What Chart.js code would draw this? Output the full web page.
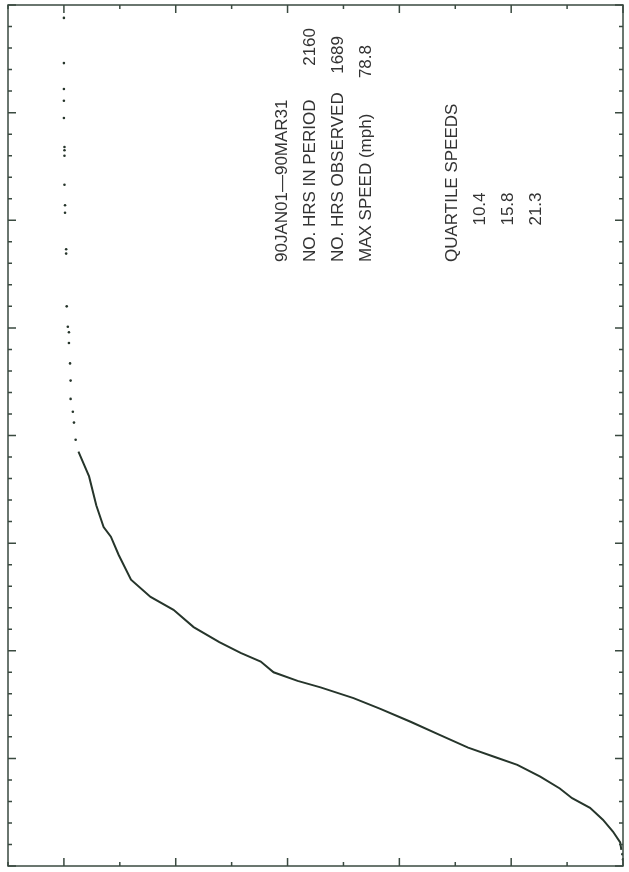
<!DOCTYPE html>
<html lang="en">
<head>
    <meta charset="UTF-8">
    <title>Wind speed distribution 90JAN01-90MAR31</title>
    <script src="https://cdn.jsdelivr.net/npm/chart.js"></script>
    <style>
        html, body { margin: 0; padding: 0; background: #fff; }
        canvas { display: block; }
    </style>
</head>
<body>
    <canvas id="speedChart" width="629" height="872"></canvas>

    <script>
        // cumulative percent of hours vs wind speed (mph)
        const curvePct = [0.3, 0.5, 1.8, 3.6, 5.9, 9.1, 11.3, 14.8, 18.9, 22.8, 27.7, 32.9, 38.0, 43.4, 48.2, 54.1,
            58.2, 62.5, 64.8, 68.4, 72.2, 76.8, 80.4, 84.5, 88.0, 90.2, 91.6, 92.9, 94.2, 95.5, 96.4, 97.4];
        const curveSpeed = [1.5, 2.2, 3.2, 4.3, 5.4, 6.3, 7.2, 8.3, 9.4, 10.1, 11.0, 12.2, 13.4, 14.6, 15.6, 16.6,
            17.2, 18.0, 19.0, 19.8, 20.8, 22.2, 23.8, 25.0, 26.6, 28.9, 30.6, 31.5, 33.5, 36.2, 37.3, 38.5];

        // isolated observations (calm hours at the bottom, the strong gusts at the top)
        const dotPct = [0.0, 0.1, 97.9, 98.2, 98.4, 98.8, 98.8, 98.9, 99.1, 99.1, 99.3, 99.5, 99.6, 99.6, 99.8,
            99.8, 99.9, 99.9, 99.9, 99.9, 100, 100, 100, 100, 100];
        const dotSpeed = [0.6, 1.1, 39.6, 41.2, 42.2, 43.4, 45.1, 46.7, 48.6, 49.6, 50.1, 52.0, 56.9, 57.3, 60.7,
            61.4, 63.3, 66.0, 66.5, 66.8, 69.5, 71.1, 72.2, 74.6, 78.8];

        const infoLabels = ['90JAN01\u201490MAR31', 'NO. HRS IN PERIOD', 'NO. HRS OBSERVED', 'MAX SPEED (mph)'];
        const infoValues = ['', '2160', '1689', '78.8'];
        const quartileTitle = 'QUARTILE SPEEDS';
        const quartileSpeeds = ['10.4', '15.8', '21.3'];

        const inkColor = '#26352b';
        const frameColor = '#3a4a40';
        const textColor = '#333333';

        const framePlugin = {
            id: 'frame',
            beforeDraw(chart) {
                const ctx = chart.ctx;
                ctx.save();
                ctx.fillStyle = '#ffffff';
                ctx.fillRect(0, 0, chart.width, chart.height);
                ctx.restore();
            },
            afterDraw(chart) {
                const ctx = chart.ctx;
                const a = chart.chartArea;
                const xs = chart.scales.x;
                const ys = chart.scales.y;
                ctx.save();
                ctx.strokeStyle = frameColor;
                ctx.lineWidth = 1.5;
                ctx.strokeRect(a.left, a.top, a.right - a.left, a.bottom - a.top);

                ctx.beginPath();
                // speed ticks every 2 mph, long every 10, on both vertical sides, pointing in
                for (let v = 0; v <= 80; v += 2) {
                    const py = ys.getPixelForValue(v);
                    const len = v % 10 === 0 ? 8 : 4;
                    ctx.moveTo(a.left, py); ctx.lineTo(a.left + len, py);
                    ctx.moveTo(a.right, py); ctx.lineTo(a.right - len, py);
                }
                // percent ticks every 10, long every 20, top and bottom
                for (let v = 0; v <= 110; v += 10) {
                    const px = xs.getPixelForValue(v);
                    const len = v % 20 === 0 ? 8 : 4;
                    ctx.moveTo(px, a.bottom); ctx.lineTo(px, a.bottom - len);
                    ctx.moveTo(px, a.top); ctx.lineTo(px, a.top + len);
                }
                ctx.stroke();

                // text block, rotated to read bottom to top
                ctx.fillStyle = textColor;
                ctx.font = '17px "Liberation Sans", Arial, sans-serif';
                ctx.textBaseline = 'alphabetic';
                const labelBase = [287, 315, 343, 371];
                const valueEnd = [0, 28, 36, 45];
                infoLabels.forEach((t, i) => {
                    ctx.save();
                    ctx.translate(labelBase[i], 262);
                    ctx.rotate(-Math.PI / 2);
                    ctx.textAlign = 'left';
                    ctx.fillText(t, 0, 0);
                    ctx.restore();
                    if (infoValues[i]) {
                        ctx.save();
                        ctx.translate(labelBase[i], valueEnd[i]);
                        ctx.rotate(-Math.PI / 2);
                        ctx.textAlign = 'right';
                        ctx.fillText(infoValues[i], 0, 0);
                        ctx.restore();
                    }
                });

                ctx.save();
                ctx.translate(457, 262);
                ctx.rotate(-Math.PI / 2);
                ctx.textAlign = 'left';
                ctx.fillText(quartileTitle, 0, 0);
                ctx.restore();

                quartileSpeeds.forEach((t, i) => {
                    ctx.save();
                    ctx.translate(485 + i * 28, 209);
                    ctx.rotate(-Math.PI / 2);
                    ctx.textAlign = 'center';
                    ctx.fillText(t, 0, 0);
                    ctx.restore();
                });
                ctx.restore();
            }
        };

        const ctx = document.getElementById('speedChart').getContext('2d');
        const speedChart = new Chart(ctx, {
            type: 'scatter',
            data: {
                datasets: [
                    {
                        label: 'cumulative',
                        data: curvePct.map((p, i) => ({ x: p, y: curveSpeed[i] })),
                        showLine: true,
                        borderColor: inkColor,
                        borderWidth: 2,
                        pointRadius: 0,
                        tension: 0
                    },
                    {
                        label: 'single hours',
                        data: dotPct.map((p, i) => ({ x: p, y: dotSpeed[i] })),
                        showLine: false,
                        backgroundColor: inkColor,
                        borderWidth: 0,
                        pointRadius: 1.3
                    }
                ]
            },
            options: {
                responsive: false,
                animation: false,
                layout: {
                    padding: { left: 8, right: 6, top: 5, bottom: 6 }
                },
                scales: {
                    x: { type: 'linear', display: false, reverse: true, min: 0, max: 110 },
                    y: { type: 'linear', display: false, min: 0, max: 80 }
                },
                plugins: {
                    legend: { display: false },
                    tooltip: { enabled: false }
                }
            },
            plugins: [framePlugin]
        });
    </script>
</body>
</html>
